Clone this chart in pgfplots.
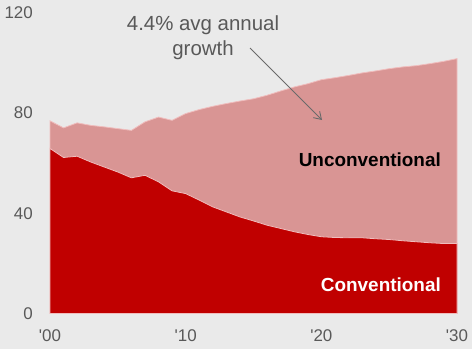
\documentclass[border=0pt]{standalone}
\usepackage{fontspec}
\setmainfont{Liberation Sans}
\usepackage{pgfplots}
\pgfplotsset{compat=1.18}
\usetikzlibrary{arrows.meta}
\definecolor{bg}{HTML}{EAEAEA}
\definecolor{conv}{HTML}{C00000}
\definecolor{unconv}{HTML}{D99594}
\definecolor{edge}{HTML}{F0BDBD}
\definecolor{lbl}{HTML}{595959}
\begin{document}
\begin{tikzpicture}[x=1bp,y=1bp]
\fill[bg] (0,0) rectangle (472,349);
\useasboundingbox (0,0) rectangle (472,349);
\begin{axis}[
  at={(50bp,35.5bp)}, anchor=south west,
  scale only axis, width=407bp, height=301bp,
  xmin=2000, xmax=2030, ymin=0, ymax=120,
  enlargelimits=false,
  axis line style={draw=none},
  tick style={draw=none},
  xtick={2000,2010,2020,2030},
  xticklabels={\textquotesingle00,\textquotesingle10,\textquotesingle20,\textquotesingle30},
  ytick={0,40,80,120},
  /pgf/number format/assume math mode=true,
  tick label style={font=\fontsize{17}{20}\selectfont, text=lbl},
  yticklabel style={anchor=east, inner sep=0pt, xshift=-17bp},
  xticklabel style={anchor=north, inner sep=0pt, yshift=-16bp},
  clip=false,
]
\addplot[fill=unconv, draw=edge, line width=0.8bp] coordinates {
(2000,76.8) (2001,74.0) (2002,76.0) (2003,75.0) (2004,74.4) (2005,73.7)
(2006,73.0) (2007,76.4) (2008,78.3) (2009,77.0) (2010,79.7) (2011,81.3)
(2012,82.6) (2013,83.7) (2014,84.7) (2015,85.6) (2016,87.0) (2017,88.7)
(2018,90.3) (2019,91.6) (2020,93.2) (2021,94.0) (2022,94.9) (2023,95.9)
(2024,96.7) (2025,97.6) (2026,98.3) (2027,98.8) (2028,99.6) (2029,100.5)
(2030,101.6)
} \closedcycle;
\addplot[fill=conv, draw=edge, line width=0.8bp] coordinates {
(2000,65.8) (2001,62.2) (2002,62.7) (2003,60.4) (2004,58.4) (2005,56.4)
(2006,54.1) (2007,55.1) (2008,52.5) (2009,48.9) (2010,47.8) (2011,45.2)
(2012,42.5) (2013,40.5) (2014,38.5) (2015,36.9) (2016,35.2) (2017,33.9)
(2018,32.6) (2019,31.5) (2020,30.6) (2021,30.3) (2022,30.2) (2023,30.2)
(2024,29.8) (2025,29.5) (2026,29.0) (2027,28.6) (2028,28.2) (2029,27.9)
(2030,27.9)
} \closedcycle;
\end{axis}
\node[anchor=base, inner sep=0pt, text=lbl, font=\fontsize{20.5}{24}\selectfont] at (203,319) {4.4\% avg annual};
\node[anchor=base, inner sep=0pt, text=lbl, font=\fontsize{20.5}{24}\selectfont] at (203,294) {growth};
\draw[draw=lbl!90, line width=0.9bp, -{Straight Barb[length=7bp,width=9bp]}] (250,301) -- (322,229);
\node[anchor=base east, inner sep=0pt, font=\bfseries\fontsize{19}{22}\selectfont] at (441,183) {Unconventional};
\node[anchor=base east, inner sep=0pt, text=white, font=\bfseries\fontsize{19}{22}\selectfont] at (441,58) {Conventional};
\end{tikzpicture}
\end{document}
